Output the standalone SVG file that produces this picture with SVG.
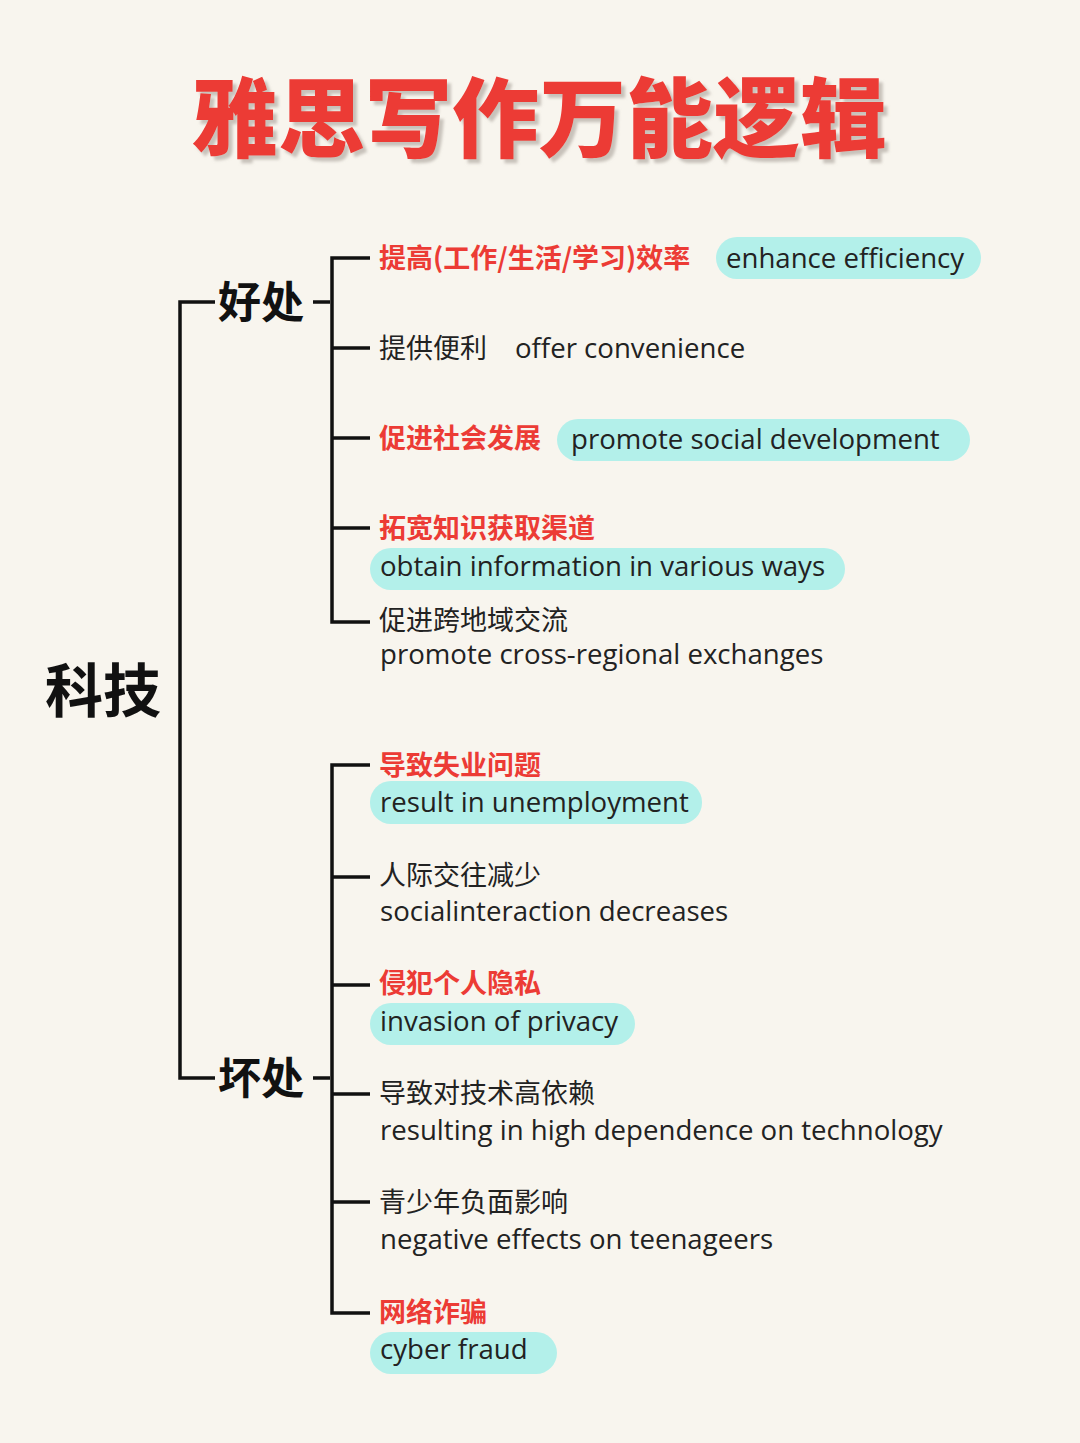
<svg xmlns="http://www.w3.org/2000/svg" width="1080" height="1443" viewBox="0 0 1080 1443">
<defs><filter id="sh" x="-5%" y="-20%" width="110%" height="140%"><feDropShadow dx="4" dy="4" stdDeviation="1.5" flood-color="#a09890" flood-opacity="0.55"/></filter></defs>
<style>
.l{stroke:#111;stroke-width:3.5;fill:none}
.r{font-family:"Noto Sans CJK SC",sans-serif;font-size:27px;font-weight:bold;fill:#ec3b35}
.c{font-family:"Noto Sans CJK SC",sans-serif;font-size:27px;fill:#222}
.e{font-family:"Open Sans","Noto Sans",sans-serif;font-size:27.6px;fill:#222}
.h{fill:#b3f0ea}
.k{font-family:"Noto Sans CJK SC",sans-serif;font-weight:bold;fill:#111}
</style>
<rect width="1080" height="1443" fill="#f8f5ee"/>
<text x="539" y="151" text-anchor="middle" font-family="Noto Sans CJK SC,sans-serif" font-weight="900" font-size="87" fill="#ec3b35" filter="url(#sh)">雅思写作万能逻辑</text>
<g id="connectors">
<path class="l" d="M215 302H180V1078H215M313 302H330M313 1078H330"/>
<path class="l" d="M370 258H332V622H370M332 348H370M332 438H370M332 528H370"/>
<path class="l" d="M370 765H332V1313H370M332 877H370M332 985H370M332 1094H370M332 1202H370"/>
</g>
<g id="root"><text class="k" x="45" y="712" font-size="58">科技</text></g>
<g id="good"><text class="k" x="218" y="318" font-size="43">好处</text></g>
<g id="bad"><text class="k" x="218" y="1094" font-size="43">坏处</text></g>
<g id="g1"><text class="r" x="379" y="268">提高(工作/生活/学习)效率</text><rect class="h" x="716" y="237" width="265" height="42" rx="21"/><text class="e" x="726" y="268">enhance efficiency</text></g>
<g id="g2"><text class="c" x="379" y="358">提供便利</text><text class="e" x="515" y="358">offer convenience</text></g>
<g id="g3"><text class="r" x="379" y="448">促进社会发展</text><rect class="h" x="557" y="419" width="413" height="42" rx="21"/><text class="e" x="571" y="449">promote social development</text></g>
<g id="g4"><text class="r" x="379" y="538">拓宽知识获取渠道</text><rect class="h" x="370" y="548" width="475" height="42" rx="21"/><text class="e" x="380" y="576">obtain information in various ways</text></g>
<g id="g5"><text class="c" x="379" y="630">促进跨地域交流</text><text class="e" x="380" y="664">promote cross-regional exchanges</text></g>
<g id="b1"><text class="r" x="379" y="775">导致失业问题</text><rect class="h" x="370" y="781" width="332" height="43" rx="21"/><text class="e" x="380" y="812">result in unemployment</text></g>
<g id="b2"><text class="c" x="379" y="885">人际交往减少</text><text class="e" x="380" y="921">socialinteraction decreases</text></g>
<g id="b3"><text class="r" x="379" y="993">侵犯个人隐私</text><rect class="h" x="370" y="1003" width="265" height="42" rx="21"/><text class="e" x="380" y="1031">invasion of privacy</text></g>
<g id="b4"><text class="c" x="379" y="1103">导致对技术高依赖</text><text class="e" x="380" y="1140">resulting in high dependence on technology</text></g>
<g id="b5"><text class="c" x="379" y="1212">青少年负面影响</text><text class="e" x="380" y="1249">negative effects on teenageers</text></g>
<g id="b6"><text class="r" x="379" y="1322">网络诈骗</text><rect class="h" x="370" y="1332" width="187" height="42" rx="21"/><text class="e" x="380" y="1359">cyber fraud</text></g>
</svg>
